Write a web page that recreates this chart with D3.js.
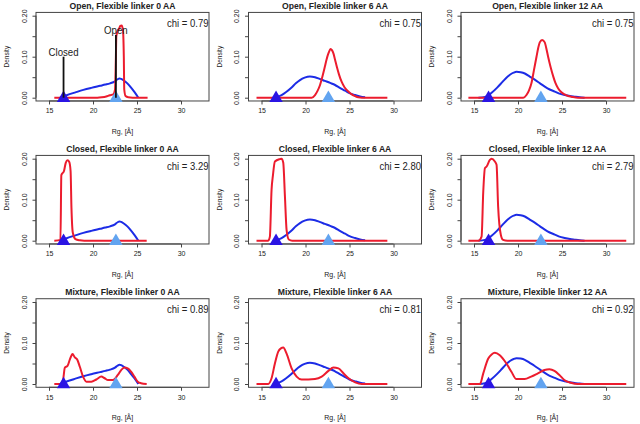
<!DOCTYPE html>
<html><head><meta charset="utf-8">
<script src="https://cdn.jsdelivr.net/npm/d3@7"></script>
<style>body{margin:0;background:#fff}svg{display:block}text{font-family:"Liberation Sans",Arial,sans-serif;fill:#222}</style>
</head><body><svg id="c" width="640" height="424"></svg>
<script>
// ---- data ----
const rowNames = ["Open", "Closed", "Mixture"];
const linkers = ["0", "6", "12"];
const chiValues = [["0.79","0.75","0.75"],["3.29","2.80","2.79"],["0.89","0.81","0.92"]];
const xTicks = [15, 20, 25, 30];
const yTicks = [0, 0.05, 0.10, 0.15, 0.20];
const yTickLabels = ["0.00", "", "0.10", "", "0.20"];
const rgClosed = 16.65;
const rgOpen = 22.6;

const blue0 = [[16.25,0],[17.0,0.006],[18.0,0.013],[18.9,0.019],[19.8,0.024],[20.8,0.029],[21.4,0.032],[21.93,0.035],[22.5,0.040],[22.8,0.045],[23.0,0.047],[23.2,0.046],[23.5,0.042],[23.9,0.035],[24.3,0.025],[24.7,0.014],[25.15,0]];
const blue6 = [[16.33,0],[16.8,0.002],[17.28,0.0065],[17.8,0.014],[18.42,0.025],[18.9,0.035],[19.37,0.043],[19.9,0.049],[20.5,0.052],[21.08,0.050],[21.6,0.046],[22.2,0.041],[22.8,0.036],[23.36,0.031],[23.9,0.024],[24.5,0.017],[25.0,0.011],[25.63,0.0065],[26.2,0.003],[26.77,0.001]];
const blue12 = [[15.5,0],[16.25,0.002],[16.6,0.005],[17.0,0.012],[17.6,0.024],[18.13,0.036],[18.6,0.047],[19.08,0.056],[19.5,0.061],[19.83,0.063],[20.3,0.062],[20.77,0.059],[21.3,0.052],[21.9,0.044],[22.5,0.035],[23.04,0.027],[23.6,0.020],[24.17,0.015],[24.7,0.010],[25.3,0.0066],[25.9,0.004],[26.43,0.0025],[27.0,0.001],[27.57,0]];

const redOpen0 = [[15.6,0],[20.5,0],[21.0,0.001],[21.5,0.003],[21.9,0.006],[22.3,0.008],[22.5,0.02],[22.6,0.10],[22.65,0.15],[22.8,0.163],[22.95,0.168],[23.1,0.175],[23.25,0.176],[23.4,0.165],[23.5,0.10],[23.55,0.02],[23.7,0.004],[24.0,0.001],[24.5,0],[26.2,0]];
const redOpen6 = [[14.43,0],[20.7,0],[21.08,0.0065],[21.35,0.016],[21.65,0.031],[21.9,0.05],[22.2,0.076],[22.4,0.094],[22.6,0.108],[22.86,0.119],[23.0,0.116],[23.17,0.108],[23.35,0.093],[23.55,0.076],[23.8,0.057],[24.1,0.039],[24.45,0.025],[24.87,0.015],[25.25,0.008],[25.63,0.004],[26.0,0.001],[26.4,0],[29.3,0]];
const redOpen12 = [[14.36,0],[20.6,0],[20.96,0.0066],[21.25,0.018],[21.53,0.036],[21.8,0.066],[22.1,0.10],[22.3,0.122],[22.47,0.135],[22.74,0.141],[23.04,0.135],[23.2,0.122],[23.42,0.10],[23.7,0.075],[24.0,0.052],[24.25,0.036],[24.55,0.023],[24.9,0.014],[25.3,0.008],[25.7,0.004],[26.06,0.0025],[26.8,0],[32.3,0]];
const redClosed0 = [[15.6,0],[16.3,0.002],[16.4,0.16],[16.7,0.17],[16.9,0.19],[17.1,0.196],[17.3,0.192],[17.45,0.17],[17.55,0.08],[17.7,0.02],[18.0,0.004],[18.5,0.001],[19.0,0],[26.1,0]];
const redClosed6 = [[14.43,0],[15.76,0],[15.95,0.01],[16.14,0.124],[16.3,0.16],[16.52,0.193],[17.09,0.199],[17.28,0.2],[17.47,0.19],[17.66,0.108],[17.85,0.026],[18.1,0.003],[18.5,0],[29.3,0]];
const redClosed12 = [[14.36,0],[15.5,0],[15.86,0.01],[16.05,0.12],[16.24,0.177],[16.43,0.181],[16.8,0.197],[16.99,0.2],[17.37,0.193],[17.56,0.185],[17.74,0.083],[18.05,0.014],[18.3,0.002],[18.8,0],[32.3,0]];
const redMix0 = [[15.6,0],[16.43,0],[16.6,0.01],[16.8,0.04],[17.1,0.044],[17.37,0.06],[17.67,0.073],[17.93,0.065],[18.2,0.06],[18.5,0.042],[18.87,0.018],[19.25,0.0057],[19.81,0.0057],[20.38,0.011],[20.94,0.018],[21.32,0.014],[21.7,0.0097],[22.26,0.0097],[22.82,0.022],[23.2,0.034],[23.57,0.04],[23.95,0.038],[24.32,0.03],[24.7,0.018],[25.08,0.0057],[25.45,0.002],[26.1,0]];
const redMix6 = [[14.43,0],[15.76,0],[16.14,0.014],[16.52,0.05],[16.9,0.079],[17.2,0.087],[17.47,0.089],[17.85,0.074],[18.42,0.038],[18.99,0.018],[19.56,0.011],[20.32,0.011],[21.08,0.012],[21.84,0.018],[22.6,0.032],[23.17,0.04],[23.74,0.038],[24.31,0.026],[24.89,0.014],[25.65,0.004],[26.4,0],[29.3,0]];
const redMix12 = [[14.36,0],[15.68,0],[16.05,0.026],[16.62,0.062],[17.0,0.072],[17.37,0.076],[17.93,0.07],[18.68,0.05],[19.25,0.03],[19.81,0.012],[20.75,0.012],[21.5,0.018],[22.26,0.026],[23.0,0.034],[23.57,0.036],[24.14,0.032],[24.7,0.022],[25.26,0.0097],[26.0,0.003],[26.77,0],[32.3,0]];

const blueByCol = [blue0, blue6, blue12];
const redByPanel = [[redOpen0, redOpen6, redOpen12],[redClosed0, redClosed6, redClosed12],[redMix0, redMix6, redMix12]];

// ---- layout ----
const svg = d3.select("#c");
const colX15 = [49, 261.5, 474];
const rowY0 = [97.7, 240.7, 384];
const RED = "#ec1c2e", BLUE = "#1c2ce6", DARKTRI = "#2a14e4", LIGHTTRI = "#62a4f0";

rowNames.forEach((rn, r) => {
  linkers.forEach((lk, c) => {
    const left = colX15[c] - 13, right = colX15[c] + 160;
    const y0 = rowY0[r];
    const x = d3.scaleLinear().domain([13.52, 33.18]).range([left, right]);
    const y = d3.scaleLinear().domain([0, 0.2]).range([y0, y0 - 82]);
    const top = y(0.208), bottom = y(-0.008);
    const g = svg.append("g");

    g.append("rect").attr("x", left).attr("y", top).attr("width", right - left).attr("height", bottom - top)
      .attr("fill", "none").attr("stroke", "#444").attr("stroke-width", 1);

    const xa = g.append("g").attr("transform", `translate(0,${bottom})`)
      .call(d3.axisBottom(x).tickValues(xTicks).tickSize(3.5).tickPadding(4).tickFormat(d3.format("d")));
    xa.select(".domain").attr("stroke", "#444").attr("d", `M${x(15)},0H${x(30)}`);
    xa.selectAll(".tick line").attr("stroke", "#444");
    xa.selectAll("text").attr("font-size", 7).style("fill", "#222").attr("font-family", "Liberation Sans, Arial, sans-serif");

    const ya = g.append("g").attr("transform", `translate(${left},0)`)
      .call(d3.axisLeft(y).tickValues(yTicks).tickSize(3.5).tickFormat((d, i) => yTickLabels[i]));
    ya.select(".domain").attr("stroke", "#444").attr("d", `M0,${y(0)}V${y(0.2)}`);
    ya.selectAll(".tick line").attr("stroke", "#444");
    ya.selectAll("text").attr("font-size", 7).style("fill", "#222").attr("font-family", "Liberation Sans, Arial, sans-serif")
      .attr("text-anchor", "middle").attr("x", 0).attr("dy", 0)
      .attr("transform", "translate(-9.5,0) rotate(-90)");

    g.append("text").attr("transform", `translate(${left - 29},${(top + bottom) / 2}) rotate(-90)`)
      .attr("text-anchor", "middle").attr("dy", "0.35em").attr("font-size", 6.5).text("Density");
    g.append("text").attr("x", (left + right) / 2).attr("y", y0 + 36).attr("text-anchor", "middle")
      .attr("font-size", 7).text("Rg, [Å]");
    g.append("text").attr("transform", `translate(${(left + right) / 2},${y(0.2) - 7}) scale(0.88,1)`)
      .attr("text-anchor", "middle").attr("font-size", 9.8).attr("font-weight", "bold")
      .text(`${rn}, Flexible linker ${lk} AA`);
    g.append("text").attr("transform", `translate(${right - 0.5},${y(0.2) + 11.3}) scale(0.88,1)`)
      .attr("text-anchor", "end").attr("font-size", 10.8).text(`chi = ${chiValues[r][c]}`);

    const line = d3.line().x(d => x(d[0])).y(d => y(d[1])).curve(d3.curveMonotoneX);
    g.append("path").attr("d", line(blueByCol[c])).attr("fill", "none").attr("stroke", BLUE).attr("stroke-width", 2);
    g.append("path").attr("d", line(redByPanel[r][c])).attr("fill", "none").attr("stroke", RED).attr("stroke-width", 2);

    const tri = d3.symbol().type(d3.symbolTriangle).size(78);
    g.append("path").attr("d", tri()).attr("transform", `translate(${x(rgClosed)},${y(0) + 0.5})`).attr("fill", DARKTRI);
    g.append("path").attr("d", tri()).attr("transform", `translate(${x(rgOpen)},${y(0) + 0.5})`).attr("fill", LIGHTTRI);

    if (r === 0 && c === 0) {
      const ann = [[rgClosed, 0.10, 0.111, "Closed"], [rgOpen, 0.153, 0.165, "Open"]];
      ann.forEach(a => {
        g.append("line").attr("x1", x(a[0])).attr("x2", x(a[0])).attr("y1", y(0)).attr("y2", y(a[1]))
          .attr("stroke", "#111").attr("stroke-width", 1.8);
        g.append("text").attr("transform", `translate(${x(a[0])},${y(a[2])}) scale(0.92,1)`)
          .attr("text-anchor", "middle").attr("dy", "0.35em").attr("font-size", 10.5).text(a[3]);
      });
    }
  });
});
</script></body></html>
